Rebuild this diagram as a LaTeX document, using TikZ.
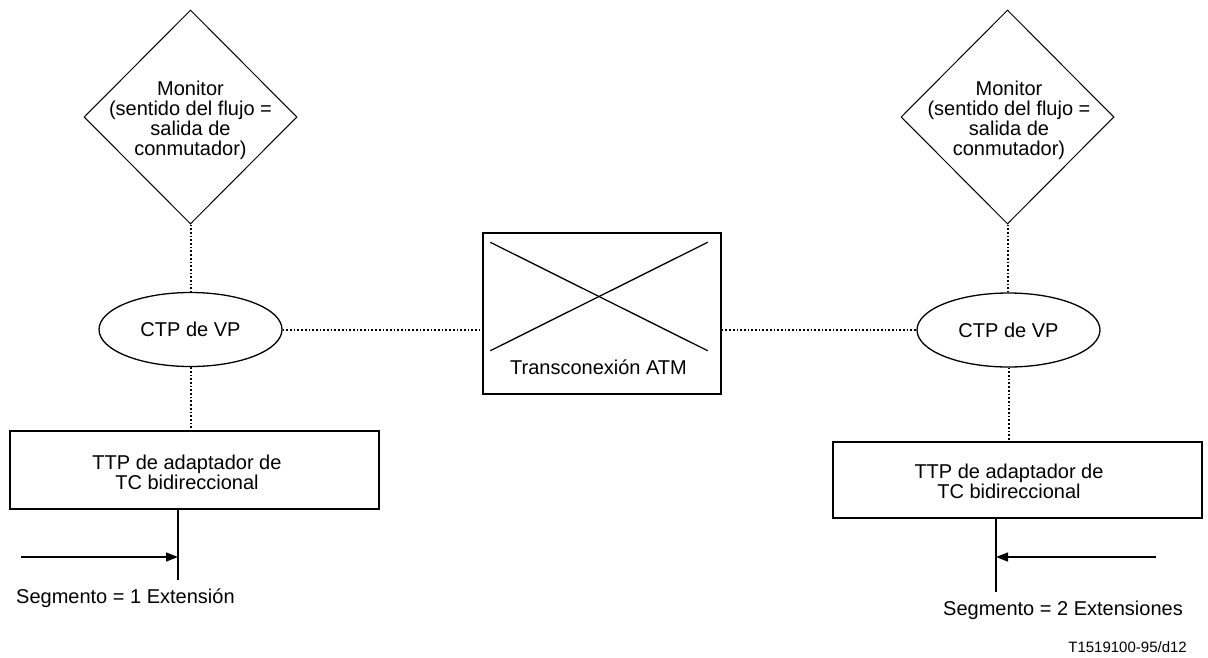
\documentclass[tikz,border=0pt]{standalone}
\usepackage{fontspec}
\setmainfont{Liberation Sans}
\usetikzlibrary{shapes.geometric,arrows.meta,calc}

\tikzset{
  every node/.style={font=\fontsize{20}{20}\selectfont, inner sep=0pt},
  monitor/.style={draw, line width=1pt, diamond, minimum width=213pt, minimum height=214pt, aspect=1},
  ctp/.style={draw, line width=1.3pt, ellipse, minimum width=183pt, minimum height=74pt},
  boxnode/.style={draw, line width=1.5pt, rectangle},
  lbl/.style={align=center},
  dots/.style={line width=2pt, dash pattern=on 1.7pt off 2pt},
  solid line/.style={line width=1.3pt},
  arr/.style={line width=1.3pt, -{Triangle[length=12pt,width=9pt]}},
}

\begin{document}
\begin{tikzpicture}[x=1pt,y=-1pt]
\useasboundingbox (0,0) rectangle (1208,657);

% monitoring points
\node[monitor] (monL) at (190.5,117) {};
\node[lbl] at (190.5,120) {Monitor\\(sentido del flujo =\\salida de\\conmutador)};
\node[monitor] (monR) at (1007.5,117) {};
\node[lbl] at (1009,120) {Monitor\\(sentido del flujo =\\salida de\\conmutador)};

% VP connection termination points
\node[ctp] (ctpL) at (190.5,329.5) {CTP de VP};
\node[ctp] (ctpR) at (1008.5,330) {CTP de VP};

% ATM cross-connect
\node[boxnode, minimum width=238pt, minimum height=161pt] (atm) at (602,313.5) {};
\draw[solid line] ($(atm.north west)+(8,10)$) -- ($(atm.south east)+(-14,-44)$);
\draw[solid line] ($(atm.south west)+(8,-44)$) -- ($(atm.north east)+(-14,10)$);
\node at (598.5,367) {Transconexión ATM};

% TC adapter trail termination points
\node[boxnode, minimum width=369pt, minimum height=78pt] (ttpL) at (194.5,470) {};
\node[lbl] at (187,472) {TTP de adaptador de\\TC bidireccional};
\node[boxnode, minimum width=369pt, minimum height=76pt] (ttpR) at (1017.5,480) {};
\node[lbl] at (1009,481) {TTP de adaptador de\\TC bidireccional};

% dotted associations
\draw[dots] (monL.south) -- (monL.south |- ctpL.north);
\draw[dots] (ctpL.south) -- (ctpL.south |- ttpL.north);
\draw[dots] (monR.south) -- (monR.south |- ctpR.north);
\draw[dots] (ctpR.south) -- (ctpR.south |- ttpR.north);
\draw[dots] (ctpL.east) -- (ctpL.east -| atm.west);
\draw[dots] (atm.east |- ctpR.west) -- (ctpR.west);

% segment ends and flow directions
\coordinate (endL) at (178,580);
\coordinate (endR) at (996,592);
\draw[solid line] (endL |- ttpL.south) -- (endL);
\draw[solid line] (endR |- ttpR.south) -- (endR);
\coordinate (flowL) at (21,557);
\coordinate (flowR) at (1156,557);
\draw[arr] (flowL) -- (flowL -| endL);
\draw[arr] (flowR) -- (flowR -| endR);

\node[anchor=west] (segL) at (16,598) {Segmento = 1 Extensión};
\node[anchor=west] (segR) at (943,610) {Segmento = 2 Extensiones};
\node[anchor=east, font=\fontsize{15}{15}\selectfont] (ref) at (1187,647) {T1519100-95/d12};
\end{tikzpicture}
\end{document}
